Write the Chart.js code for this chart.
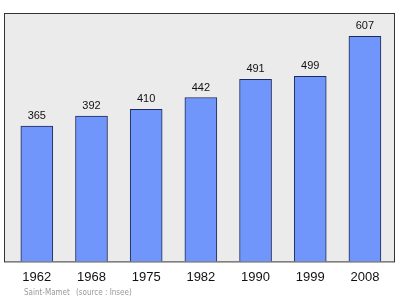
<!DOCTYPE html>
<html lang="fr">
<head>
  <meta charset="UTF-8">
  <title>Saint-Mamet - population</title>
  <script src="https://cdn.jsdelivr.net/npm/chart.js"></script>
  <style>
    html, body { margin: 0; padding: 0; background: #fff; }
    #wrap { width: 400px; height: 299px; }
  </style>
</head>
<body>
<div id="wrap">
  <canvas id="grafico"></canvas>
</div>

<script>
  const annees = ['1962', '1968', '1975', '1982', '1990', '1999', '2008'];
  const population = [365, 392, 410, 442, 491, 499, 607];
  const piedGauche = 'Saint-Mamet';
  const piedDroite = '(source : Insee)';

  // fond gris + cadre, valeurs au-dessus des barres, pied de page
  const decor = {
    id: 'decor',
    beforeDraw(chart) {
      const { ctx, chartArea: a } = chart;
      ctx.save();
      ctx.fillStyle = '#ebebeb';
      ctx.fillRect(a.left, a.top, a.right - a.left, a.bottom - a.top);
      ctx.strokeStyle = '#333';
      ctx.lineWidth = 1;
      ctx.strokeRect(a.left + 0.5, a.top + 0.5, a.right - a.left - 1, a.bottom - a.top);
      ctx.restore();
    },
    afterDatasetsDraw(chart) {
      const { ctx } = chart;
      const meta = chart.getDatasetMeta(0);
      ctx.save();
      ctx.fillStyle = '#111';
      ctx.font = '11px "Liberation Sans", sans-serif';
      ctx.textAlign = 'center';
      ctx.textBaseline = 'middle';
      meta.data.forEach((bar, i) => {
        ctx.fillText(population[i], bar.x, bar.y - 10);
      });
      ctx.fillStyle = '#999';
      ctx.font = '8px "DejaVu Sans Condensed", "DejaVu Sans", sans-serif';
      ctx.textAlign = 'left';
      ctx.fillText(piedGauche, 24, 293);
      ctx.fillText(piedDroite, 76, 293);
      ctx.restore();
    }
  };

  new Chart(document.getElementById('grafico'), {
    type: 'bar',
    data: {
      datasets: [{
        data: population.map((v, i) => ({ x: i, y: v })),
        backgroundColor: '#7095fb',
        borderColor: '#1f2b57',
        borderWidth: 1,
        barThickness: 32
      }]
    },
    options: {
      responsive: true,
      maintainAspectRatio: false,
      animation: false,
      layout: { padding: { left: 4, right: 5, top: 13, bottom: 6 } },
      plugins: { legend: { display: false }, tooltip: { enabled: false } },
      scales: {
        x: {
          type: 'linear',
          offset: false,
          min: -0.6,
          max: 6.55,
          grid: { display: false, drawTicks: false },
          border: { display: false },
          afterBuildTicks(scale) {
            scale.ticks = annees.map((a, i) => ({ value: i }));
          },
          ticks: {
            autoSkip: false,
            maxRotation: 0,
            padding: 8,
            color: '#111',
            font: { family: '"Liberation Sans", sans-serif', size: 13 },
            callback: (v) => annees[v]
          }
        },
        y: {
          display: false,
          min: 0,
          max: 670
        }
      }
    },
    plugins: [decor]
  });
</script>
</body>
</html>
